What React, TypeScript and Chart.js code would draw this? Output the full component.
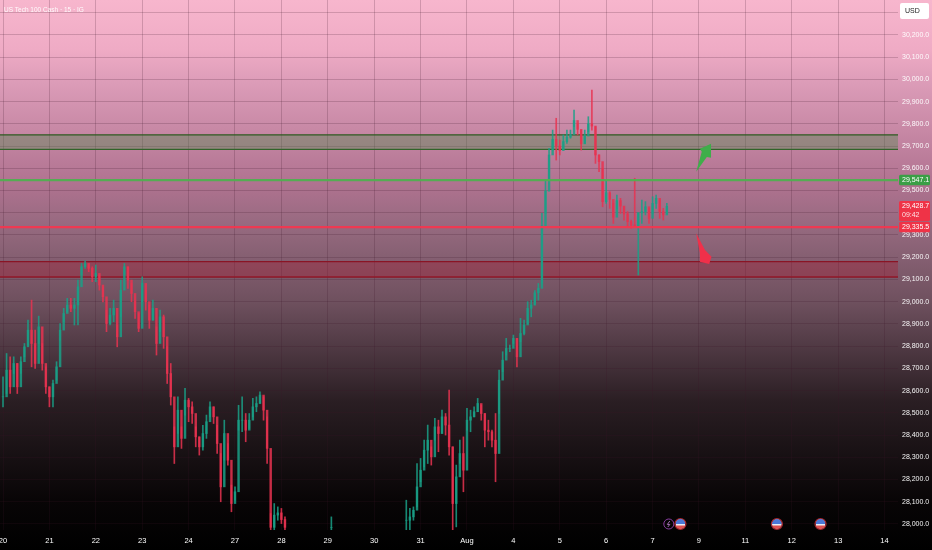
import React, { useEffect, useRef } from "react";
import { Chart, registerables } from "chart.js";

Chart.register(...registerables);

const dayLabels = ["20","21","22","23","24","27","28","29","30","31","Aug","4","5","6","7","9","11","12","13","14"];
const candlesPerDay = 13;

const closes: (number|null)[] = [
28572,28692,28617,28722,28617,28730,28797,28872,28812,28722,
28887,28722,28617,28572,28632,28707,28872,28947,28985,28970,
28985,29067,29157,29172,29150,29112,29127,29075,29022,28902,
28940,28970,28842,29052,29157,29097,29037,28955,28880,29082,
29000,28917,28970,28812,28932,28842,28677,28572,28347,28512,
28385,28557,28527,28497,28392,28347,28407,28460,28527,28482,
28362,28167,28407,28287,28092,28145,28467,28467,28422,28467,
28527,28542,28580,28512,28340,27985,28040,28050,28020,27985,
null,null,null,null,null,null,null,null,null,null,null,null,27985,
null,null,null,null,null,null,null,null,null,null,null,null,null,null,null,null,null,null,null,null,
28017,28032,28062,28167,28242,28332,28377,28302,28437,28407,28482,28445,28347,
28092,28212,28317,28242,28467,28482,28505,28542,28497,28422,28415,28377,28317,
28647,28737,28790,28790,28835,28752,28857,28895,28970,28985,29040,29060,29340,
29497,29660,29730,29700,29680,29720,29740,29752,29815,29775,29710,29745,29800,
29790,29660,29630,29450,29490,29460,29380,29455,29430,29395,29360,29345,29340,
29400,29405,29427,29375,29442,29465,29405,29390,29428.7,
];
const highs: (number|null)[] = [
28662,28767,28752,28752,28722,28752,28812,28917,29007,28872,
28935,28812,28707,28617,28647,28730,28902,28970,29015,29015,
29015,29097,29172,29184,29172,29157,29165,29120,29067,28962,
28970,29007,28895,29097,29172,29157,29082,29000,28947,29112,
29052,28985,29007,28887,28962,28940,28797,28722,28437,28572,
28437,28610,28565,28550,28437,28392,28444,28490,28550,28527,
28444,28317,28467,28362,28175,28167,28534,28572,28497,28497,
28565,28572,28595,28572,28482,28047,28092,28077,28070,28032,
null,null,null,null,null,null,null,null,null,null,null,null,28032,
null,null,null,null,null,null,null,null,null,null,null,null,null,null,null,null,null,null,null,null,
28107,28070,28077,28272,28295,28377,28445,28347,28475,28467,28512,28497,28602,
28347,28265,28377,28392,28520,28512,28527,28565,28535,28497,28467,28422,28497,
28692,28775,28835,28805,28850,28835,28925,28917,29000,29007,29050,29082,29397,
29547,29690,29772,29825,29727,29750,29772,29772,29862,29802,29772,29772,29832,
29952,29787,29660,29600,29547,29495,29442,29480,29465,29427,29405,29367,29555,
29400,29457,29450,29420,29472,29480,29457,29420,29442,
];
const lows: (number|null)[] = [
28527,28587,28587,28677,28587,28677,28752,28804,28707,28700,
28812,28692,28587,28527,28527,28647,28827,28910,28955,28955,
28895,28895,29120,29150,29135,29090,29090,29052,28999,28865,
28895,28910,28797,28932,29120,29060,29000,28925,28865,29000,
28962,28880,28917,28760,28865,28790,28632,28535,28272,28407,
28340,28490,28460,28452,28347,28310,28332,28385,28482,28452,
28317,28100,28287,28265,28055,28107,28422,28415,28370,28430,
28482,28505,28542,28467,28272,27965,27965,28017,28002,27965,
null,null,null,null,null,null,null,null,null,null,null,null,27965,
null,null,null,null,null,null,null,null,null,null,null,null,null,null,null,null,null,null,null,null,
27965,27965,28017,28077,28190,28257,28272,28265,28377,28325,28407,28400,28310,
27965,27987,28272,28145,28422,28415,28482,28505,28467,28347,28377,28347,28190,
28497,28685,28760,28775,28812,28707,28820,28850,28902,28932,28985,29007,29082,
29397,29547,29682,29637,29660,29682,29712,29735,29787,29750,29682,29712,29765,
29772,29622,29585,29427,29442,29420,29352,29420,29397,29367,29337,29330,29340,
29120,29352,29390,29352,29397,29420,29375,29367,29397,
];

const greenZone = [29685, 29750];
const redZone = [29111, 29180];
const greenLevel = 29547.1;
const redLevel = 29335.5;
const lastPrice = 29428.7;
const countdown = "09:42";

const greenArrowDays = [14.94, 15.06, 15.02, 15.26, 15.26, 15.17];
const greenArrowPrices = [29584, 29674, 29688, 29710, 29647, 29651];
const redArrowDays = [14.94, 15.13, 15.27, 15.22, 15.02, 15.02];
const redArrowPrices = [29308, 29233, 29202, 29170, 29180, 29219];

const lightningDays = [14.35];
const flagDays = [14.6, 16.68, 17.62];
const eventPrice = 28000;

const xMin = -0.065, xMax = 19.29;
const yMin = 27973, yMax = 30357;
const title = "US Tech 100 Cash · 15 · IG";
const FONT = '"Liberation Sans", sans-serif';
const UP = "rgba(26,160,135,0.85)", DOWN = "rgba(232,50,80,0.85)";
const fmt = (v: number) => v.toLocaleString("en-US", { minimumFractionDigits: 1, maximumFractionDigits: 1 });

const opens = closes.map((c, i) => (i > 0 && closes[i - 1] != null ? closes[i - 1] : c));
const colors = closes.map((c, i) => ((c ?? 0) >= (opens[i] ?? 0) ? UP : DOWN));
const xs = closes.map((_, i) => i / candlesPerDay);

const hline = (y: number) => [{ x: xMin, y }, { x: xMax, y }];
const noPad = (s: any) => { s.paddingLeft = 0; s.paddingRight = 0; s.paddingTop = 0; s.paddingBottom = 0; };

const overlay = {
  id: "overlay",
  afterDraw(chart: any) {
    const { ctx, scales } = chart;
    const X = scales.x, Y = scales.y;
    const poly = (ds: number[], ps: number[], col: string) => {
      ctx.beginPath();
      ds.forEach((d, i) => {
        const px = X.getPixelForValue(d), py = Y.getPixelForValue(ps[i]);
        if (i) ctx.lineTo(px, py); else ctx.moveTo(px, py);
      });
      ctx.closePath();
      ctx.fillStyle = col;
      ctx.fill();
    };
    poly(greenArrowDays, greenArrowPrices, "#3fae4a");
    poly(redArrowDays, redArrowPrices, "#f0304a");

    ctx.save();
    ctx.textBaseline = "middle";
    const tag = (p: number, col: string, txt: string, sub?: string) => {
      const y = Y.getPixelForValue(p);
      ctx.fillStyle = col;
      const h = sub ? 20 : 10.5;
      const top = sub ? y - 5.5 : y - 5.25;
      ctx.beginPath();
      ctx.roundRect(899, top, 31, h, 1.5);
      ctx.fill();
      ctx.fillStyle = "#fff";
      ctx.font = `7px ${FONT}`;
      ctx.textAlign = "left";
      ctx.fillText(txt, 902, y);
      if (sub) {
        ctx.fillStyle = "rgba(255,255,255,0.85)";
        ctx.fillText(sub, 902, y + 9);
      }
    };
    tag(greenLevel, "#3a9f46", fmt(greenLevel));
    tag(lastPrice, "#ef3347", fmt(lastPrice), countdown);
    tag(redLevel, "#ef3347", fmt(redLevel));

    ctx.fillStyle = "#fff";
    ctx.beginPath();
    ctx.roundRect(900, 3, 29, 16, 2);
    ctx.fill();
    ctx.fillStyle = "#222";
    ctx.font = `7px ${FONT}`;
    ctx.fillText("USD", 905, 11);

    ctx.fillStyle = "rgba(255,255,255,0.95)";
    ctx.font = `6.5px ${FONT}`;
    ctx.fillText(title, 4, 10);

    const ey = Y.getPixelForValue(eventPrice);
    lightningDays.forEach((d) => {
      const cx = X.getPixelForValue(d);
      ctx.beginPath();
      ctx.arc(cx, ey, 5, 0, Math.PI * 2);
      ctx.strokeStyle = "#8a3fa0";
      ctx.lineWidth = 1;
      ctx.stroke();
      ctx.beginPath();
      ctx.moveTo(cx + 1, ey - 3);
      ctx.lineTo(cx - 1.5, ey + 0.5);
      ctx.lineTo(cx + 1, ey + 0.5);
      ctx.lineTo(cx - 1, ey + 3);
      ctx.strokeStyle = "#a070b0";
      ctx.stroke();
    });
    flagDays.forEach((d) => {
      const cx = X.getPixelForValue(d);
      ctx.save();
      ctx.beginPath();
      ctx.arc(cx, ey, 5, 0, Math.PI * 2);
      ctx.clip();
      ctx.fillStyle = "#e8eef8";
      ctx.fillRect(cx - 5, ey - 5, 10, 10);
      ctx.fillStyle = "#e05050";
      ctx.fillRect(cx - 5, ey + 1.5, 10, 3.5);
      ctx.fillStyle = "#4a78d8";
      ctx.fillRect(cx - 5, ey - 5, 10, 5);
      ctx.restore();
      ctx.beginPath();
      ctx.arc(cx, ey, 5.5, 0, Math.PI * 2);
      ctx.strokeStyle = "#a82830";
      ctx.lineWidth = 1.2;
      ctx.stroke();
    });
    ctx.restore();
  },
};

export default function App() {
  const ref = useRef<HTMLCanvasElement>(null);
  useEffect(() => {
    const chart = new Chart(ref.current as any, {
      type: "bar",
      data: {
        datasets: [
          { type: "line", data: hline(greenLevel), borderColor: "rgba(80,175,80,0.95)", borderWidth: 2.2, pointRadius: 0, order: 0 },
          { type: "line", data: hline(redLevel), borderColor: "rgba(242,55,80,0.95)", borderWidth: 2.2, pointRadius: 0, order: 0 },
          { type: "bar", data: closes.map((c, i) => ({ x: xs[i], y: c == null ? null : [opens[i], c] })), backgroundColor: colors, barThickness: 1.8, grouped: false, order: 1 },
          { type: "bar", data: closes.map((c, i) => ({ x: xs[i], y: c == null ? null : [lows[i], highs[i]] })), backgroundColor: colors, barThickness: 1, grouped: false, order: 2 },
          { type: "line", data: hline(greenZone[1]), borderColor: "#2c5a20", borderWidth: 1.3, pointRadius: 0, fill: "+1", backgroundColor: "rgba(80,140,80,0.38)", order: 3 },
          { type: "line", data: hline(greenZone[0]), borderColor: "#2c5a20", borderWidth: 1.3, pointRadius: 0, order: 3 },
          { type: "line", data: hline(redZone[1]), borderColor: "#8a1424", borderWidth: 1.3, pointRadius: 0, fill: "+1", backgroundColor: "rgba(170,25,50,0.35)", order: 3 },
          { type: "line", data: hline(redZone[0]), borderColor: "#8a1424", borderWidth: 1.3, pointRadius: 0, order: 3 },
        ] as any,
      },
      options: {
        animation: false,
        responsive: false,
        devicePixelRatio: 1,
        layout: { padding: 0 },
        plugins: { legend: { display: false }, tooltip: { enabled: false } },
        scales: {
          x: {
            type: "linear",
            offset: false,
            min: xMin,
            max: xMax,
            afterBuildTicks: (s: any) => { s.ticks = dayLabels.map((_, i) => ({ value: i })); },
            afterFit: (s: any) => { s.height = 20; noPad(s); },
            grid: { color: "rgba(60,20,40,0.2)", drawTicks: false, offset: false },
            border: { display: false },
            ticks: {
              autoSkip: false, maxRotation: 0, padding: 6, color: "#ffffff",
              font: { size: 7.5, family: FONT },
              callback: (v: any) => dayLabels[v] ?? "",
            },
          },
          y: {
            type: "linear",
            position: "right",
            min: yMin,
            max: yMax,
            afterFit: (s: any) => { s.width = 34; noPad(s); },
            grid: { color: "rgba(60,20,40,0.2)", drawTicks: false },
            border: { display: false },
            ticks: {
              stepSize: 100, includeBounds: false, autoSkip: false, padding: 4, crossAlign: "near",
              color: "rgba(255,255,255,0.95)",
              font: { size: 7, family: FONT },
              callback: (v: any) => fmt(v),
            },
          },
        },
      } as any,
      plugins: [overlay],
    });
    return () => chart.destroy();
  }, []);
  return (
    <div style={{
      position: "fixed", left: 0, top: 0, width: 932, height: 550,
      background: "linear-gradient(180deg,#f7b6cd 0%,#efabc5 9%,#dc9cb8 15%,#b17391 33%,#93687d 42%,#6e505e 55%,#2a1e23 73%,#080506 91%,#000 100%)",
    }}>
      <canvas ref={ref} width={932} height={550} style={{ display: "block", filter: "blur(0.4px)" }} />
    </div>
  );
}
